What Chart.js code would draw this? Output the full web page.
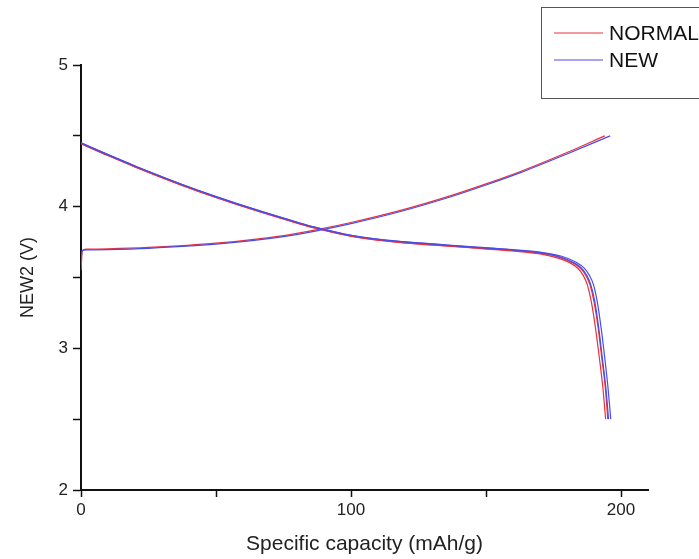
<!DOCTYPE html>
<html>
<head>
<meta charset="utf-8">
<script src="https://cdn.jsdelivr.net/npm/chart.js@4/dist/chart.umd.min.js"></script>
<style>
  html, body { margin: 0; padding: 0; background: #fff; }
  canvas { display: block; }
</style>
</head>
<body>
<canvas id="capacityChart" width="699" height="559"></canvas>
<script>
const seriesNames = ["NORMAL", "NEW"];
const seriesColors = ["#e8323c", "#4b4be8"];

// charge curves (capacity mAh/g, voltage V)
const normalChargeCap = [0, 0.5, 2, 10, 25, 50, 75, 88, 100, 118, 137, 150, 163, 180, 194];
const normalChargeV = [3.55, 3.69, 3.70, 3.702, 3.712, 3.742, 3.796, 3.84, 3.888, 3.972, 4.078, 4.161, 4.25, 4.382, 4.50];
const newChargeCap = [0, 0.5, 2, 10, 25, 50, 75, 88, 100, 118, 137, 150, 163, 180, 196];
const newChargeV = [3.62, 3.69, 3.695, 3.697, 3.706, 3.735, 3.788, 3.832, 3.880, 3.964, 4.070, 4.153, 4.242, 4.372, 4.50];

// discharge curves, two cycles each
const normalDis1Cap = [0, 10, 20, 37, 50, 65, 81, 88, 100, 110, 120, 132, 144, 160, 170, 177, 181, 184, 186, 187.5, 189, 190.5, 192, 193.3, 194.3];
const normalDis1V = [4.445, 4.361, 4.281, 4.154, 4.065, 3.971, 3.879, 3.843, 3.792, 3.763, 3.744, 3.726, 3.710, 3.687, 3.667, 3.635, 3.605, 3.565, 3.515, 3.45, 3.33, 3.15, 2.93, 2.72, 2.50];
const normalDis2Cap = [0, 10, 20, 37, 50, 65, 81, 88, 100, 110, 120, 132, 144, 160, 170, 177.5, 182, 185, 187, 188.5, 190, 191.5, 192.9, 194.2, 195.1];
const normalDis2V = [4.445, 4.361, 4.281, 4.154, 4.065, 3.971, 3.879, 3.843, 3.792, 3.764, 3.745, 3.728, 3.712, 3.690, 3.671, 3.640, 3.605, 3.565, 3.515, 3.45, 3.33, 3.15, 2.93, 2.72, 2.50];
const newDis1Cap = [0, 10, 20, 37, 50, 65, 81, 88, 100, 110, 120, 132, 144, 160, 170, 177.5, 182.2, 185.3, 187.3, 188.8, 190.3, 191.7, 193.1, 194.4, 195.4];
const newDis1V = [4.450, 4.367, 4.287, 4.160, 4.071, 3.977, 3.885, 3.849, 3.798, 3.770, 3.751, 3.733, 3.716, 3.694, 3.675, 3.645, 3.608, 3.567, 3.515, 3.45, 3.33, 3.15, 2.93, 2.72, 2.50];
const newDis2Cap = [0, 10, 20, 37, 50, 65, 81, 88, 100, 110, 120, 132, 144, 160, 170, 178, 183.2, 186.3, 188.3, 189.8, 191.2, 192.6, 194, 195.2, 196.2];
const newDis2V = [4.450, 4.367, 4.287, 4.160, 4.071, 3.977, 3.885, 3.849, 3.798, 3.771, 3.752, 3.735, 3.718, 3.697, 3.679, 3.650, 3.610, 3.568, 3.515, 3.45, 3.33, 3.15, 2.93, 2.72, 2.50];

// axis ticks
const xTickLabels = [0, 100, 200];
const yTickLabels = [2, 3, 4, 5];

const fontFamily = '"Liberation Sans", Arial, Helvetica, sans-serif';

function toPoints(caps, volts) {
    return caps.map((c, i) => ({ x: c, y: volts[i] }));
}

function curve(label, colorIdx, caps, volts) {
    return {
        label: label,
        data: toPoints(caps, volts),
        showLine: true,
        borderColor: seriesColors[colorIdx],
        borderWidth: 1.2,
        pointRadius: 0,
        cubicInterpolationMode: "monotone",
        fill: false
    };
}

// legend drawn as a framed box in the top right corner
const boxLegend = {
    id: "boxLegend",
    afterDraw(chart) {
        const ctx = chart.ctx;
        ctx.save();
        ctx.strokeStyle = "#555";
        ctx.lineWidth = 1;
        ctx.strokeRect(541.5, 7.5, 200, 91);
        seriesNames.forEach((name, i) => {
            const y = 33 + i * 27;
            ctx.strokeStyle = seriesColors[i];
            ctx.lineWidth = 1;
            ctx.beginPath();
            ctx.moveTo(554, y);
            ctx.lineTo(603, y);
            ctx.stroke();
            ctx.fillStyle = "#111";
            ctx.font = "21px " + fontFamily;
            ctx.textBaseline = "middle";
            ctx.fillText(name, 609, y + 1);
        });
        ctx.restore();
    }
};

const ctx = document.getElementById("capacityChart").getContext("2d");

new Chart(ctx, {
    type: "scatter",
    data: {
        datasets: [
            curve(seriesNames[1], 1, newChargeCap, newChargeV),
            curve(seriesNames[1], 1, newDis1Cap, newDis1V),
            curve(seriesNames[1], 1, newDis2Cap, newDis2V),
            curve(seriesNames[0], 0, normalChargeCap, normalChargeV),
            curve(seriesNames[0], 0, normalDis1Cap, normalDis1V),
            curve(seriesNames[0], 0, normalDis2Cap, normalDis2V)
        ]
    },
    options: {
        responsive: false,
        animation: false,
        layout: { padding: { top: 65, right: 51, left: 0, bottom: 0 } },
        plugins: {
            legend: { display: false },
            tooltip: { enabled: false }
        },
        scales: {
            x: {
                type: "linear",
                position: "bottom",
                min: 0,
                max: 210,
                afterFit: s => { s.height = 69; },
                ticks: {
                    stepSize: 50,
                    includeBounds: false,
                    autoSkip: false,
                    maxRotation: 0,
                    padding: 3,
                    color: "#222",
                    font: { size: 17, family: fontFamily },
                    callback: v => xTickLabels.includes(v) ? String(v) : ""
                },
                grid: {
                    drawOnChartArea: false,
                    drawTicks: true,
                    tickLength: 7,
                    tickColor: "#111",
                    tickWidth: 1.5
                },
                border: { display: true, color: "#111", width: 2 },
                title: {
                    display: true,
                    text: "Specific capacity (mAh/g)",
                    color: "#222",
                    font: { size: 21, family: fontFamily },
                    padding: { top: 0, bottom: 2 }
                }
            },
            y: {
                type: "linear",
                position: "left",
                min: 2,
                max: 5,
                afterFit: s => { s.width = 81; },
                ticks: {
                    stepSize: 0.5,
                    includeBounds: false,
                    autoSkip: false,
                    padding: 5,
                    color: "#222",
                    font: { size: 17, family: fontFamily },
                    callback: v => yTickLabels.includes(v) ? String(v) : ""
                },
                grid: {
                    drawOnChartArea: false,
                    drawTicks: true,
                    tickLength: 8,
                    tickColor: "#111",
                    tickWidth: 1.5
                },
                border: { display: true, color: "#111", width: 2 },
                title: {
                    display: true,
                    text: "NEW2 (V)",
                    color: "#222",
                    font: { size: 18, family: fontFamily },
                    padding: { top: 17, bottom: 0 }
                }
            }
        }
    },
    plugins: [boxLegend]
});
</script>
</body>
</html>
